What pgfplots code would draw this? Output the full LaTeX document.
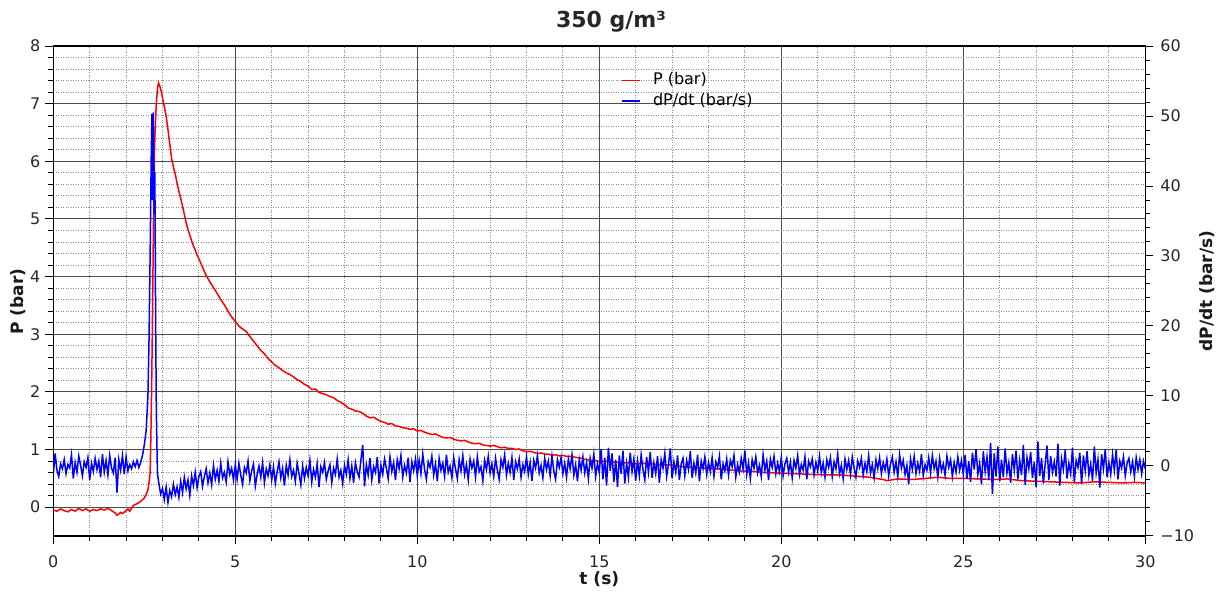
\documentclass[border=0pt]{standalone}
\usepackage{fontspec}
\setmainfont{DejaVu Sans}
\usepackage{pgfplots}
\pgfplotsset{compat=1.18}
\begin{document}
\begin{tikzpicture}
\useasboundingbox (-26.65pt,-28.5pt) rectangle (584.35pt,268pt);
\pgfplotsset{
  base/.style={
    scale only axis, width=546pt, height=245pt,
    at={(0,0)}, anchor=south west,
    xmin=0, xmax=30,
    tick align=outside,
    major tick length=4pt, minor tick length=2.5pt,
    tick style={black, line width=0.5pt},
    axis line style={black, line width=0.6pt},
    tick label style={font=\fontsize{8}{9.6}\selectfont, text=black!85},
    label style={font=\bfseries\fontsize{8.5}{10}\selectfont, text=black!90},
    /pgf/number format/assume math mode=true,
  }
}
\begin{axis}[base,
  ymin=-0.5, ymax=8,
  xtick={0,5,...,30}, minor x tick num=4,
  ytick={0,1,...,8}, minor y tick num=4,
  xtick pos=bottom, ytick pos=left,
  xticklabel style={yshift=-2.5pt},
  yticklabel style={xshift=1pt},
  grid=both,
  major grid style={black!70, line width=0.5pt},
  minor grid style={black!45, line width=0.5pt, dash pattern=on 0.5pt off 0.75pt},
  xlabel={t (s)}, ylabel={P (bar)},
  xlabel style={at={(axis description cs:0.5,-0.1)}, anchor=base},
  ylabel style={at={(axis description cs:-0.0323,0.478)}, anchor=center},
  title={350 g/m³},
  title style={font=\bfseries\fontsize{11}{13}\selectfont, text=black!85, at={(axis description cs:0.5107,1.0129)}, anchor=base},
  legend style={at={(axis description cs:0.52,0.9487)}, anchor=north west, draw=none, fill=none, inner sep=0pt, font=\fontsize{8}{9.6}\selectfont, row sep=1.5pt, nodes={inner sep=0.5pt, text height=6pt, text depth=1.8pt}},
  legend cell align=left,
  legend image code/.code={\draw[#1] (0pt,0pt) -- (9pt,0pt);},
]
\addplot[red, line width=0.75pt] coordinates {
(0,-0.05) (0.1,-0.07) (0.2,-0.03) (0.3,-0.06) (0.4,-0.08) (0.5,-0.04) (0.6,-0.07) (0.7,-0.02) (0.8,-0.06) (0.9,-0.03)
(1.0,-0.07) (1.1,-0.04) (1.2,-0.06) (1.3,-0.03) (1.4,-0.05) (1.5,-0.02) (1.6,-0.06) (1.7,-0.1) (1.75,-0.14) (1.8,-0.12)
(1.85,-0.09) (1.9,-0.11) (2.0,-0.06) (2.05,-0.03) (2.1,-0.07) (2.2,0.03) (2.3,0.06) (2.4,0.10) (2.5,0.16) (2.55,0.22)
(2.6,0.30) (2.63,0.42) (2.66,0.6) (2.68,1.2) (2.70,2.0) (2.72,3.0) (2.74,4.2) (2.76,5.4) (2.78,6.2) (2.80,6.6)
(2.83,7.0) (2.86,7.25) (2.89,7.36) (2.93,7.3) (2.97,7.2) (3.0,7.1) (3.05,6.95) (3.1,6.78) (3.15,6.55) (3.2,6.3)
(3.25,6.05) (3.3,5.9) (3.35,5.78) (3.4,5.62) (3.45,5.48) (3.5,5.36) (3.55,5.22) (3.6,5.08) (3.65,4.93) (3.7,4.82)
(3.75,4.72) (3.8,4.62) (3.85,4.53) (3.9,4.46) (3.95,4.37) (4.0,4.31) (4.1,4.16) (4.2,4.02) (4.3,3.91) (4.4,3.81)
(4.5,3.71) (4.6,3.60) (4.7,3.51) (4.8,3.40) (4.9,3.30) (5.0,3.22) (5.1,3.14) (5.2,3.09) (5.3,3.05) (5.4,2.96)
(5.5,2.88) (5.6,2.80) (5.7,2.72) (5.8,2.66) (5.9,2.58) (6.0,2.52) (6.1,2.46) (6.2,2.42) (6.3,2.37) (6.4,2.33)
(6.5,2.30) (6.6,2.26) (6.7,2.21) (6.8,2.18) (6.9,2.13) (7.0,2.10) (7.1,2.04) (7.2,2.05) (7.3,1.99) (7.4,1.97)
(7.5,1.95) (7.6,1.92) (7.7,1.90) (7.8,1.85) (7.9,1.82) (8.0,1.78) (8.1,1.72) (8.2,1.70) (8.3,1.67) (8.4,1.66)
(8.5,1.63) (8.6,1.58) (8.7,1.55) (8.8,1.56) (8.9,1.52) (9.0,1.49) (9.1,1.47) (9.2,1.44) (9.3,1.45) (9.4,1.41)
(9.5,1.40) (9.6,1.38) (9.7,1.37) (9.8,1.35) (9.9,1.36) (10.0,1.32) (10.1,1.33) (10.2,1.30) (10.3,1.28) (10.4,1.26) (10.5,1.27) (10.6,1.24) (10.7,1.21) (10.8,1.20)
(10.9,1.21) (11.0,1.18) (11.1,1.16) (11.2,1.15) (11.3,1.16) (11.4,1.13) (11.5,1.11) (11.6,1.10) (11.7,1.11) (11.8,1.08) (11.9,1.07) (12.0,1.06) (12.1,1.07) (12.2,1.05) (12.3,1.03) (12.4,1.04) (12.5,1.02) (12.6,1.02) (12.7,1.00) (12.8,1.01)
(12.9,0.98) (13.0,0.96) (13.1,0.97) (13.2,0.95) (13.3,0.93) (13.4,0.94) (13.5,0.92) (13.6,0.92) (13.7,0.90) (13.8,0.91) (13.9,0.89) (14.0,0.90) (14.1,0.88) (14.2,0.88) (14.3,0.87) (14.4,0.86) (14.5,0.85) (14.6,0.83)
(14.7,0.82) (14.8,0.80) (14.9,0.81) (15.0,0.79) (15.2,0.80) (15.4,0.78) (15.6,0.77) (15.8,0.77) (16.0,0.75) (16.3,0.76) (16.6,0.74) (17.0,0.73)
(17.3,0.70) (17.6,0.69) (18.0,0.67) (18.4,0.66) (18.8,0.63) (19.2,0.62) (19.6,0.60) (20.0,0.59) (20.4,0.58) (20.8,0.57)
(21.2,0.56) (21.6,0.56) (22.0,0.54) (22.4,0.52) (22.8,0.48) (22.9,0.46) (23.2,0.49) (23.6,0.48) (24.0,0.50) (24.3,0.52)
(24.6,0.50) (25.0,0.50) (25.4,0.49) (25.8,0.48) (26.2,0.49) (26.6,0.46) (27.0,0.45) (27.4,0.44) (27.8,0.43) (28.2,0.42)
(28.6,0.44) (29.0,0.43) (29.4,0.42) (29.7,0.43) (30.0,0.42)
};
\addlegendentry{\hspace*{5.5pt}P (bar)}
\addlegendimage{blue, line width=0.75pt}
\addlegendentry{\hspace*{5.5pt}dP/dt (bar/s)}
\end{axis}
\begin{axis}[base,
  axis x line=none, axis y line*=right,
  ymin=-10, ymax=60,
  ytick={-10,0,...,60}, yticklabels={−10,0,10,20,30,40,50,60},
  minor y tick num=4,
  ylabel={dP/dt (bar/s)},
  ylabel style={at={(axis description cs:1.0565,0.5)}, anchor=center},
]
\addplot[blue, line width=0.75pt] coordinates {
(0,-1.2) (0.05,1.8) (0.1,-0.6) (0.15,-1.5) (0.2,0.3) (0.25,-0.4) (0.3,0.9) (0.35,-1.1) (0.4,0.2) (0.45,-0.3)
(0.5,1.6) (0.55,-1.8) (0.6,0.5) (0.65,-0.9) (0.7,1.4) (0.75,0.1) (0.8,-1.4) (0.85,0.6) (0.9,-0.2) (0.95,1.2)
(1,-2.0) (1.05,0.4) (1.1,-0.8) (1.15,1.1) (1.2,-0.5) (1.25,0.7) (1.3,-1.6) (1.35,1.7) (1.4,-0.9) (1.45,0.8)
(1.5,-1.3) (1.55,1.5) (1.6,-0.3) (1.65,-1.0) (1.7,1.2) (1.75,-3.8) (1.8,0.9) (1.85,-0.6) (1.9,1.5) (1.95,-1.2)
(2,1.3) (2.05,-0.7) (2.1,0.2) (2.15,-0.4) (2.2,0.6) (2.25,-0.1) (2.3,0.8) (2.35,-0.2) (2.4,0.5)
(2.45,1.5) (2.5,3.0) (2.55,5.0) (2.6,10) (2.63,18) (2.66,30) (2.69,44) (2.71,50.3) (2.73,38) (2.75,50.5)
(2.77,36) (2.79,42) (2.81,22) (2.83,8) (2.86,-1)
(2.9,-2.5) (2.95,-4.0) (3,-3.2) (3.05,-4.8) (3.1,-3.0) (3.15,-5.2) (3.2,-3.5) (3.25,-4.4) (3.3,-2.6) (3.35,-4.1)
(3.4,-3.0) (3.45,-4.5) (3.5,-2.2) (3.55,-3.8) (3.6,-1.6) (3.65,-3.3) (3.7,-2.0) (3.75,-4.2) (3.8,-1.4) (3.85,-2.8)
(3.9,-0.9) (3.95,-3.1) (4,-1.5) (4.05,-0.8) (4.1,-2.9) (4.15,-1.5) (4.2,-0.4) (4.25,-2.4) (4.3,-1.0) (4.35,-2.7)
(4.4,0.1) (4.45,-1.9) (4.5,-0.6) (4.55,-2.2) (4.6,0.4) (4.65,-1.7) (4.7,-0.9) (4.75,-2.3) (4.8,0.6) (4.85,-1.2)
(4.9,-0.3) (4.95,-2.0) (5,0.2)
(5.05,-1.9) (5.1,0.4) (5.15,-1.3) (5.2,-2.6) (5.25,-0.2) (5.3,-1.0) (5.35,0.7) (5.4,-2.1) (5.45,-0.7) (5.5,0.3)
(5.55,-2.9) (5.6,-1.2) (5.65,0.0) (5.7,-1.6) (5.75,0.5) (5.8,-2.4) (5.85,-0.4) (5.9,-1.4) (5.95,0.2) (6,-2.0)
(6.05,-0.1) (6.1,-2.5) (6.15,-0.8) (6.2,0.6) (6.25,-1.7) (6.3,-0.3) (6.35,-2.8) (6.4,0.1) (6.45,-1.3) (6.5,0.9)
(6.55,-1.5) (6.6,-0.6) (6.65,-2.2) (6.7,0.4) (6.75,-1.1) (6.8,-2.7) (6.85,0.0) (6.9,-1.8) (6.95,-0.2) (7,-1.4)
(7.05,0.8) (7.1,-2.3) (7.15,-0.5) (7.2,-1.6) (7.25,0.3) (7.3,-3.0) (7.35,-0.1) (7.4,-0.9) (7.45,0.5) (7.5,-1.9)
(7.55,-0.7) (7.6,0.2) (7.65,-2.4) (7.7,-0.3) (7.75,-1.2) (7.8,1.0) (7.85,-1.6) (7.9,-0.6) (7.95,-2.5) (8,0.1)
(8.05,-1.2) (8.1,0.9) (8.15,-1.8) (8.2,0.0) (8.25,-2.4) (8.3,0.5) (8.35,-0.8) (8.4,-1.6) (8.45,0.8) (8.5,3.0)
(8.55,-2.9) (8.6,0.2) (8.65,-1.3) (8.7,1.1) (8.75,-2.0) (8.8,-0.1) (8.85,-0.9) (8.9,1.3) (8.95,-2.5) (9,0.1)
(9.05,-1.2) (9.1,1.0) (9.15,-0.3) (9.2,-1.8) (9.25,1.3) (9.3,-0.8) (9.35,0.5) (9.4,-2.0) (9.45,0.9) (9.5,-0.4)
(9.55,1.5) (9.6,-1.6) (9.65,0.1) (9.7,-1.0) (9.75,1.2) (9.8,-2.3) (9.85,0.6) (9.9,-0.7) (9.95,1.0) (10,-1.4)
(10.05,0.8) (10.1,-1.1) (10.15,1.7) (10.2,-0.5) (10.25,-1.9) (10.3,0.6) (10.35,-0.2) (10.4,1.4) (10.45,-1.3) (10.5,0.3)
(10.55,-2.2) (10.6,1.1) (10.65,-0.6) (10.7,0.4) (10.75,-1.5) (10.8,1.6) (10.85,-0.9) (10.9,0.0) (10.95,-1.7) (11,1.2)
(11.05,-0.4) (11.1,-1.8) (11.15,0.9) (11.2,-0.7) (11.25,1.5) (11.3,-1.2) (11.35,0.2) (11.4,-2.0) (11.45,1.0) (11.5,-0.3)
(11.55,0.7) (11.6,-1.6) (11.65,1.3) (11.7,-0.8) (11.75,-0.1) (11.8,-2.1) (11.85,0.8) (11.9,-0.5) (11.95,1.4) (12,-1.0)
(12.05,0.3) (12.1,-1.5) (12.15,1.1) (12.2,-0.6) (12.25,-1.9) (12.3,0.9) (12.35,-0.2) (12.4,1.6) (12.45,-1.3) (12.5,0.4)
(12.55,-0.9) (12.6,1.2) (12.65,-2.0) (12.7,0.6) (12.75,-0.4) (12.8,1.0) (12.85,-1.6) (12.9,0.2) (12.95,-0.8) (13,1.3)
(13.05,-1.2) (13.1,0.5) (13.15,-2.1) (13.2,0.8) (13.25,-0.3) (13.3,1.5) (13.35,-1.0) (13.4,0.1) (13.45,-1.7) (13.5,1.1)
(13.55,-0.5) (13.6,0.7) (13.65,-1.4) (13.7,1.4) (13.75,-0.7) (13.8,-1.9) (13.85,0.9) (13.9,-0.2) (13.95,1.2) (14,-1.1)
(14.05,0.4) (14.1,-1.6) (14.15,1.0) (14.2,-0.4) (14.25,1.6) (14.3,-1.3) (14.35,0.2) (14.4,-2.2) (14.45,0.9) (14.5,-0.6)
(14.55,1.3) (14.6,-1.0) (14.65,0.5) (14.7,-1.8) (14.75,1.1) (14.8,-0.3) (14.85,1.7) (14.9,-1.5) (14.95,0.3) (15,-0.9)
(15.05,2.4) (15.1,-1.9) (15.15,1.2) (15.2,-2.8) (15.25,2.6) (15.3,-0.7) (15.35,1.8) (15.4,-2.3) (15.45,0.9) (15.5,-3.0)
(15.55,1.5) (15.6,-1.1) (15.65,2.2) (15.7,-2.5) (15.75,0.4) (15.8,-1.6) (15.85,1.9) (15.9,-0.8) (15.95,1.0) (16,-2.1)
(16.05,0.7) (16.1,-1.4) (16.15,1.6) (16.2,-0.5) (16.25,-2.0) (16.3,1.3) (16.35,-0.9) (16.4,2.0) (16.45,-1.7) (16.5,0.5)
(16.55,-1.1) (16.6,1.4) (16.65,-2.4) (16.7,0.9) (16.75,-0.3) (16.8,1.8) (16.85,-1.5) (16.9,0.2) (16.95,2.5) (17,-1.8)
(17.05,0.6) (17.1,-0.9) (17.15,1.5) (17.2,-2.0) (17.25,0.3) (17.3,1.1) (17.35,-1.4) (17.4,0.8) (17.45,-0.5) (17.5,2.1)
(17.55,-1.7) (17.6,0.4) (17.65,-1.0) (17.7,1.6) (17.75,-2.2) (17.8,0.7) (17.85,-0.4) (17.9,1.3) (17.95,-1.2) (18,0.5)
(18.05,-0.8) (18.1,1.2) (18.15,-1.5) (18.2,0.6) (18.25,-0.2) (18.3,1.4) (18.35,-1.9) (18.4,0.3) (18.45,-0.7) (18.5,1.0)
(18.55,-1.3) (18.6,0.8) (18.65,-0.1) (18.7,1.5) (18.75,-1.6) (18.8,0.2) (18.85,-0.9) (18.9,1.1) (18.95,-0.4) (19,2.2)
(19.05,-1.2) (19.1,0.5) (19.15,-1.8) (19.2,0.9) (19.25,-0.3) (19.3,1.3) (19.35,-1.0) (19.4,0.1) (19.45,-1.5) (19.5,1.6)
(19.55,-0.6) (19.6,0.7) (19.65,-2.0) (19.7,1.0) (19.75,-0.2) (19.8,1.4) (19.85,-1.1) (19.9,0.4) (19.95,-0.8) (20,1.2)
(20.05,-1.4) (20.1,0.3) (20.15,1.1) (20.2,-0.9) (20.25,0.6) (20.3,-1.7) (20.35,0.8) (20.4,-0.3) (20.45,1.5) (20.5,-1.2)
(20.55,0.2) (20.6,-0.6) (20.65,1.3) (20.7,-1.9) (20.75,0.7) (20.8,-0.1) (20.85,1.0) (20.9,-1.3) (20.95,0.5) (21,-0.7)
(21.05,1.4) (21.1,-1.0) (21.15,0.4) (21.2,-1.6) (21.25,0.9) (21.3,-0.2) (21.35,1.2) (21.4,-1.5) (21.45,0.6) (21.5,-0.4)
(21.55,1.7) (21.6,-1.1) (21.65,0.1) (21.7,-1.8) (21.75,1.0) (21.8,-0.5) (21.85,0.8) (21.9,-1.2) (21.95,1.3) (22,-0.3)
(22.05,-1.6) (22.1,0.7) (22.15,-0.2) (22.2,1.1) (22.25,-1.3) (22.3,0.4) (22.35,-0.8) (22.4,1.5) (22.45,-1.0) (22.5,0.2)
(22.55,-1.7) (22.6,0.9) (22.65,-0.4) (22.7,1.2) (22.75,-1.1) (22.8,0.5) (22.85,-0.6) (22.9,1.0) (22.95,-1.4) (23,0.3)
(23.05,1.3) (23.1,-0.9) (23.15,0.6) (23.2,-1.5) (23.25,1.6) (23.3,-0.3) (23.35,0.8) (23.4,-1.2) (23.45,0.1) (23.5,-2.6)
(23.55,1.0) (23.6,-0.5) (23.65,1.4) (23.7,-1.1) (23.75,0.4) (23.8,-0.8) (23.85,1.7) (23.9,-1.4) (23.95,0.2) (24,-0.6)
(24.05,1.2) (24.1,-1.0) (24.15,1.5) (24.2,-0.4) (24.25,0.7) (24.3,-1.6) (24.35,1.1) (24.4,-0.7) (24.45,0.3) (24.5,-1.3)
(24.55,1.4) (24.6,-0.2) (24.65,0.9) (24.7,-1.5) (24.75,0.5) (24.8,-0.9) (24.85,1.3) (24.9,-0.6) (24.95,0.8) (25,-1.2)
(25.05,1.6) (25.1,-1.8) (25.15,0.7) (25.2,-2.3) (25.25,1.9) (25.3,-0.5) (25.35,2.4) (25.4,-1.2) (25.45,0.4) (25.5,-2.6)
(25.55,2.1) (25.6,-0.8) (25.65,1.3) (25.7,-2.0) (25.75,3.3) (25.8,-4.0) (25.85,1.8) (25.9,-1.5) (25.95,2.8) (26,-2.2)
(26.05,0.9) (26.1,-1.6) (26.15,2.5) (26.2,-1.0) (26.25,0.5) (26.3,-2.4) (26.35,1.7) (26.4,-0.6) (26.45,2.2) (26.5,-1.9)
(26.55,0.8) (26.6,-1.3) (26.65,3.0) (26.7,-2.7) (26.75,1.2) (26.8,-0.4) (26.85,2.0) (26.9,-1.7) (26.95,0.6) (27,-3.0)
(27.05,3.5) (27.1,-1.4) (27.15,1.1) (27.2,-2.5) (27.25,0.3) (27.3,2.9) (27.35,-2.0) (27.4,1.4) (27.45,-0.9) (27.5,0.6)
(27.55,-1.5) (27.6,3.2) (27.65,-2.8) (27.7,1.0) (27.75,-0.5) (27.8,2.3) (27.85,-1.8) (27.9,0.4) (27.95,-1.1) (28,2.6)
(28.05,-2.3) (28.1,0.8) (28.15,-0.2) (28.2,1.9) (28.25,-2.6) (28.3,1.5) (28.35,-0.7) (28.4,2.1) (28.45,-1.3) (28.5,0.3)
(28.55,-2.1) (28.6,2.8) (28.65,-1.0) (28.7,0.9) (28.75,-3.1) (28.8,1.7) (28.85,-0.4) (28.9,2.4) (28.95,-1.6) (29,0.5)
(29.05,-1.2) (29.1,1.6) (29.15,-0.6) (29.2,2.3) (29.25,-1.9) (29.3,0.7) (29.35,-0.3) (29.4,1.3) (29.45,-1.4) (29.5,0.4)
(29.55,1.1) (29.6,-0.8) (29.65,0.6) (29.7,-1.5) (29.75,1.2) (29.8,-0.5) (29.85,0.9) (29.9,-1.1) (29.95,0.7) (30,-0.4)
};
\end{axis}
\end{tikzpicture}
\end{document}
